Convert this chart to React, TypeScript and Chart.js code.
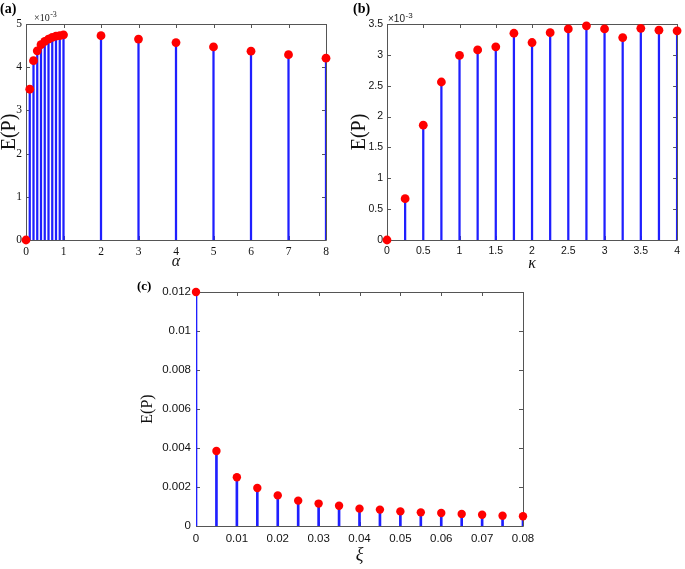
import React, { useEffect, useRef } from 'react';
import { Chart, registerables } from 'chart.js';

Chart.register(...registerables);

// ---------- data ----------
// panel (a): E(P) in units of 10^-3 versus alpha
const alphaValues = [0, 0.1, 0.2, 0.3, 0.4, 0.5, 0.6, 0.7, 0.8, 0.9, 1, 2, 3, 4, 5, 6, 7, 8];
const energyByAlpha = [0, 3.49, 4.15, 4.38, 4.52, 4.6, 4.65, 4.69, 4.72, 4.73, 4.75, 4.73, 4.65, 4.57, 4.47, 4.37, 4.29, 4.21];

// panel (b): E(P) in units of 10^-3 versus kappa
const kappaValues = [0, 0.25, 0.5, 0.75, 1, 1.25, 1.5, 1.75, 2, 2.25, 2.5, 2.75, 3, 3.25, 3.5, 3.75, 4];
const energyByKappa = [0, 0.67, 1.86, 2.56, 2.99, 3.08, 3.13, 3.35, 3.2, 3.36, 3.42, 3.47, 3.42, 3.28, 3.43, 3.4, 3.39];

// panel (c): E(P) versus xi
const xiValues = [0, 0.005, 0.01, 0.015, 0.02, 0.025, 0.03, 0.035, 0.04, 0.045, 0.05, 0.055, 0.06, 0.065, 0.07, 0.075, 0.08];
const energyByXi = [0.012, 0.00385, 0.0025, 0.00195, 0.00157, 0.0013, 0.00115, 0.00104, 0.00089, 0.00084, 0.00075, 0.0007, 0.00067, 0.00062, 0.00058, 0.00053, 0.0005];

// axis ranges / tick steps
const alphaAxis = [0, 8, 1];
const energyAlphaAxis = [0, 5, 1];
const kappaAxis = [0, 4, 0.5];
const energyKappaAxis = [0, 3.5, 0.5];
const xiAxis = [0, 0.08, 0.01];
const energyXiAxis = [0, 0.012, 0.002];

const panelLabels = ['(a)', '(b)', '(c)'];
const xTitles = ['\u03B1', '\u03BA', '\u03BE'];
const yTitle = 'E(P)';
const exponentLabel = '-3';

const STEM = '#1f1fff';
const DOT = '#ff0000';
const BOX = '#555555';
const SERIF = '"Liberation Serif", "DejaVu Serif", serif';
const SANS = '"Liberation Sans", Arial, sans-serif';

const fmt = (v: any) => String(+Number(v).toFixed(4));

const framePlugin = {
  id: 'frame',
  beforeDatasetsDraw(chart: any) {
    const { ctx, chartArea } = chart;
    const { left, right, top, bottom } = chartArea;
    const xs = chart.scales.x;
    const ys = chart.scales.y;
    const tl = 4;
    ctx.save();
    ctx.strokeStyle = BOX;
    ctx.lineWidth = 1;
    ctx.beginPath();
    ctx.rect(Math.round(left) + 0.5, Math.round(top) + 0.5, Math.round(right - left), Math.round(bottom - top));
    xs.ticks.forEach((t: any) => {
      const px = Math.round(xs.getPixelForValue(t.value)) + 0.5;
      ctx.moveTo(px, bottom);
      ctx.lineTo(px, bottom - tl);
      ctx.moveTo(px, top);
      ctx.lineTo(px, top + tl);
    });
    ys.ticks.forEach((t: any) => {
      const py = Math.round(ys.getPixelForValue(t.value)) + 0.5;
      ctx.moveTo(left, py);
      ctx.lineTo(left + tl, py);
      ctx.moveTo(right, py);
      ctx.lineTo(right - tl, py);
    });
    ctx.stroke();
    ctx.restore();
  },
  afterDraw(chart: any, _args: any, opts: any) {
    const { ctx } = chart;
    ctx.save();
    ctx.fillStyle = '#000';
    ctx.textBaseline = 'alphabetic';
    ctx.textAlign = 'left';
    ctx.font = `bold ${opts.labelSize}px ${SERIF}`;
    ctx.fillText(opts.label, opts.labelX, opts.labelY);
    if (opts.exponent) {
      ctx.font = `${opts.expSize}px ${opts.expFamily}`;
      ctx.fillStyle = '#222';
      const base = '\u00D710';
      ctx.fillText(base, opts.expX, opts.expY);
      const w = ctx.measureText(base).width;
      ctx.font = `${Math.round(opts.expSize * 0.75)}px ${opts.expFamily}`;
      ctx.fillText(exponentLabel, opts.expX + w + 0.5, opts.expY - 4);
    }
    ctx.restore();
  },
};

type Panel = {
  left: number; top: number; w: number; h: number;
  padTop: number; padRight: number; yWidth: number; xHeight: number;
  xs: number[]; ys: number[]; xAxis: number[]; yAxis: number[];
  tickFamily: string; tickSize: number; xTickPad: number; yTickPad: number;
  xTitle: string; xTitleSize: number; xTitlePad: number;
  yTitleSize: number; yTitlePad: number;
  label: string; labelX: number; labelY: number; labelSize: number;
  exponent: boolean; expX: number; expY: number; expSize: number; expFamily: string;
  stemWidth: number; dotRadius: number;
};

const panels: Panel[] = [
  {
    left: 0, top: 0, w: 340, h: 270, padTop: 24, padRight: 14, yWidth: 26, xHeight: 30,
    xs: alphaValues, ys: energyByAlpha, xAxis: alphaAxis, yAxis: energyAlphaAxis,
    tickFamily: SERIF, tickSize: 11.5, xTickPad: 5, yTickPad: 4,
    xTitle: xTitles[0], xTitleSize: 16, xTitlePad: 0, yTitleSize: 20, yTitlePad: 0,
    label: panelLabels[0], labelX: 0, labelY: 13, labelSize: 14,
    exponent: true, expX: 34, expY: 21, expSize: 10, expFamily: SERIF,
    stemWidth: 1.6, dotRadius: 4.4,
  },
  {
    left: 345, top: 0, w: 340, h: 270, padTop: 24, padRight: 5, yWidth: 42, xHeight: 30,
    xs: kappaValues, ys: energyByKappa, xAxis: kappaAxis, yAxis: energyKappaAxis,
    tickFamily: SANS, tickSize: 10.5, xTickPad: 5, yTickPad: 4,
    xTitle: xTitles[1], xTitleSize: 16, xTitlePad: -1.5, yTitleSize: 20, yTitlePad: 5,
    label: panelLabels[1], labelX: 8, labelY: 13, labelSize: 14,
    exponent: true, expX: 43, expY: 22, expSize: 10, expFamily: SANS,
    stemWidth: 1.6, dotRadius: 4.4,
  },
  {
    left: 130, top: 275, w: 420, h: 294, padTop: 17, padRight: 27, yWidth: 66, xHeight: 43,
    xs: xiValues, ys: energyByXi, xAxis: xiAxis, yAxis: energyXiAxis,
    tickFamily: SANS, tickSize: 11.5, xTickPad: 6, yTickPad: 5,
    xTitle: xTitles[2], xTitleSize: 18, xTitlePad: 5, yTitleSize: 16, yTitlePad: 9.5,
    label: panelLabels[2], labelX: 7, labelY: 15, labelSize: 13,
    exponent: false, expX: 0, expY: 0, expSize: 10, expFamily: SANS,
    stemWidth: 2, dotRadius: 4.2,
  },
];

function StemPanel({ p }: { p: Panel }) {
  const ref = useRef<HTMLCanvasElement>(null);
  useEffect(() => {
    const pts = p.xs.map((x, i) => ({ x, y: p.ys[i] }));
    const chart = new Chart(ref.current as HTMLCanvasElement, {
      type: 'bar',
      data: {
        datasets: [
          {
            type: 'bar',
            data: pts as any,
            backgroundColor: STEM,
            borderWidth: 0,
            barThickness: p.stemWidth,
            order: 2,
          } as any,
          {
            type: 'scatter',
            data: pts as any,
            backgroundColor: DOT,
            borderWidth: 0,
            pointRadius: p.dotRadius,
            pointHoverRadius: p.dotRadius,
            clip: false,
            order: 1,
          } as any,
        ],
      },
      options: {
        animation: false,
        responsive: false,
        devicePixelRatio: 1,
        layout: { padding: { top: p.padTop, right: p.padRight, left: 0, bottom: 0 } },
        plugins: {
          legend: { display: false },
          tooltip: { enabled: false },
          frame: {
            label: p.label, labelX: p.labelX, labelY: p.labelY, labelSize: p.labelSize,
            exponent: p.exponent, expX: p.expX, expY: p.expY, expSize: p.expSize, expFamily: p.expFamily,
          },
        } as any,
        scales: {
          x: {
            type: 'linear',
            min: p.xAxis[0],
            max: p.xAxis[1],
            offset: false,
            grid: { display: false, drawTicks: false },
            border: { display: false },
            ticks: {
              stepSize: p.xAxis[2],
              padding: p.xTickPad,
              autoSkip: false,
              maxRotation: 0,
              color: '#111',
              font: { family: p.tickFamily, size: p.tickSize },
              callback: fmt,
            },
            title: {
              display: true,
              text: p.xTitle,
              color: '#111',
              font: { family: SERIF, size: p.xTitleSize, style: 'italic', lineHeight: 1 },
              padding: { top: 0, bottom: p.xTitlePad },
            },
            afterFit: (s: any) => { s.height = p.xHeight; },
          },
          y: {
            type: 'linear',
            min: p.yAxis[0],
            max: p.yAxis[1],
            grid: { display: false, drawTicks: false },
            border: { display: false },
            ticks: {
              stepSize: p.yAxis[2],
              padding: p.yTickPad,
              autoSkip: false,
              color: '#111',
              font: { family: p.tickFamily, size: p.tickSize },
              callback: fmt,
            },
            title: {
              display: true,
              text: yTitle,
              color: '#111',
              font: { family: SERIF, size: p.yTitleSize, lineHeight: 1 },
              padding: { top: p.yTitlePad, bottom: 0 },
            },
            afterFit: (s: any) => { s.width = p.yWidth; },
          },
        } as any,
      },
      plugins: [framePlugin as any],
    });
    return () => chart.destroy();
  }, [p]);
  return (
    <canvas
      ref={ref}
      width={p.w}
      height={p.h}
      style={{ position: 'absolute', left: p.left, top: p.top, width: p.w, height: p.h }}
    />
  );
}

export default function App() {
  return (
    <div style={{ position: 'absolute', left: 0, top: 0, width: 685, height: 569, background: '#fff' }}>
      {panels.map((p, i) => (
        <StemPanel key={i} p={p} />
      ))}
    </div>
  );
}
